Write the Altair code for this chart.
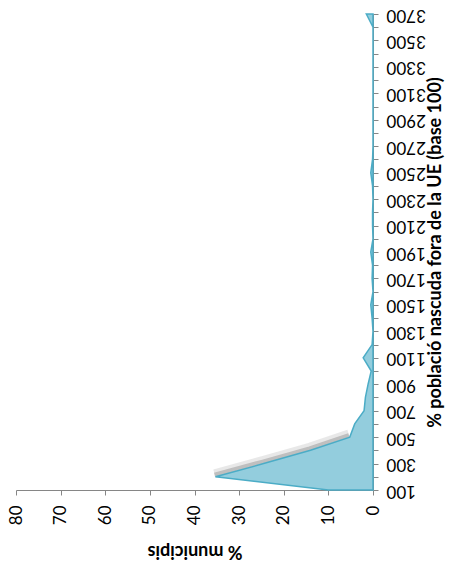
import altair as alt
import pandas as pd

categories = list(range(100, 3800, 100))
values = [10.0, 35.3, 24.5, 14.0, 5.2, 4.1, 2.0, 1.7, 1.1, 0.4,
          2.2, 0.2, 0.0, 0.2, 0.5, 0.0, 0.2, 0.1, 0.5, 0.0,
          0.1, 0.1, 0.0, 0.1, 0.5, 0.1, 0.0, 0.0, 0.0, 0.0,
          0.0, 0.0, 0.0, 0.0, 0.0, 0.0, 1.5]
value_ticks = list(range(0, 90, 10))

df = pd.DataFrame({"cat": categories, "val": values})

FONT = "Lato"
GREY = "#868686"

x_enc = alt.X("val:Q",
              scale=alt.Scale(domain=[0, 80], reverse=True, nice=False),
              axis=alt.Axis(title="% municipis", orient="bottom", values=value_ticks,
                            grid=False, labelAngle=270, labelFontSize=17, labelFont=FONT,
                            labelColor="#000000", labelPadding=10,
                            domainColor=GREY, tickColor=GREY, tickSize=5,
                            titleAngle=180, titleFont=FONT, titleFontSize=18,
                            titleFontWeight="bold", titleColor="#000000", titlePadding=35))
y_enc = alt.Y("cat:Q",
              scale=alt.Scale(domain=[100, 3700], nice=False, zero=False),
              axis=alt.Axis(title="% població nascuda fora de la UE (base 100)", orient="right",
                            values=categories, format="d",
                            labelExpr="(datum.value - 100) % 200 == 0 ? datum.label : ''",
                            labelOverlap=False, grid=False, labelAngle=180,
                            labelFontSize=17, labelFont=FONT, labelColor="#000000",
                            labelPadding=8, domainColor=GREY, tickColor=GREY, tickSize=5,
                            titleAngle=270, titleFont=FONT, titleFontSize=18,
                            titleFontWeight="bold", titleColor="#000000", titlePadding=19))

base = alt.Chart(df)

shadow_wide = base.transform_filter(
    (alt.datum.cat >= 200) & (alt.datum.cat <= 500)
).mark_line(color="#444444", opacity=0.12, strokeWidth=9, yOffset=-3, xOffset=-1).encode(
    x=x_enc, y=y_enc, order="cat:Q")

shadow_core = base.transform_filter(
    (alt.datum.cat >= 200) & (alt.datum.cat <= 500)
).mark_line(color="#444444", opacity=0.25, strokeWidth=4, yOffset=-2, xOffset=-1).encode(
    x=x_enc, y=y_enc, order="cat:Q")

area = base.mark_area(orient="horizontal", fill="#93CDDD", stroke="#4BACC6",
                      strokeWidth=1.5, fillOpacity=1).encode(x=x_enc, y=y_enc)

chart = alt.layer(shadow_wide, shadow_core, area).properties(
    width=357, height=476,
    autosize=alt.AutoSizeParams(type="none"),
    padding={"left": 8, "top": 6, "right": 76, "bottom": 71},
).configure_view(stroke=None)

chart.save("out.html", embed_options={"renderer": "svg", "actions": False})
